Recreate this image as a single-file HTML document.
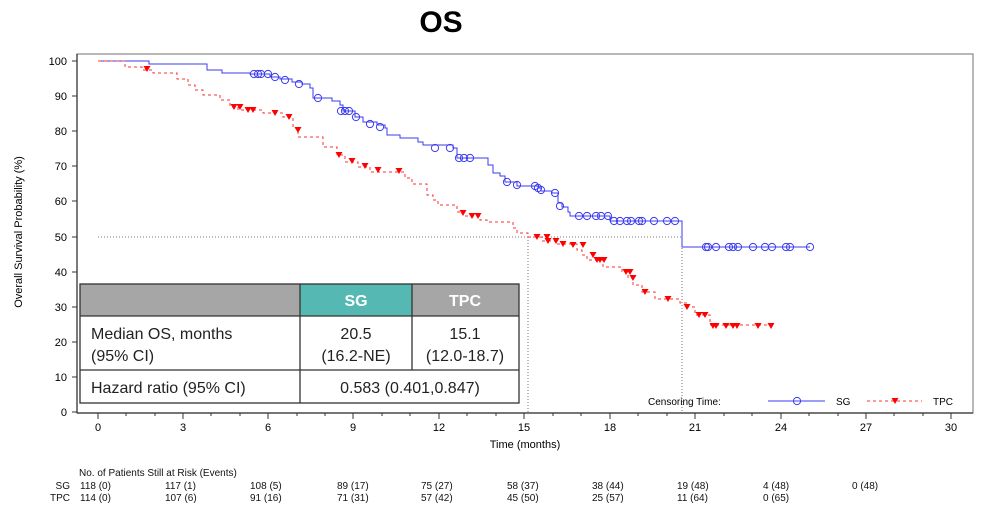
<!DOCTYPE html>
<html><head><meta charset="utf-8"><style>
body{margin:0;background:#fff;}
svg{display:block;font-family:"Liberation Sans",sans-serif;}
</style></head><body>
<svg width="987" height="510" viewBox="0 0 987 510" xmlns="http://www.w3.org/2000/svg">
<defs>
<circle id="c" r="3.6" fill="none" stroke="#3b3bf0" stroke-width="1"/>
<path id="t" d="M-3.5,-3 L3.5,-3 L0,3 Z" fill="#f00"/>
</defs>
<text x="441" y="32" font-size="30" font-weight="bold" text-anchor="middle">OS</text>
<!-- frame -->
<rect x="77" y="54" width="896" height="359" fill="none" stroke="#888" stroke-width="1.2"/>
<line x1="77" y1="413" x2="973" y2="413" stroke="#333" stroke-width="1.2"/>
<line x1="77" y1="54" x2="77" y2="413" stroke="#333" stroke-width="1.2"/>
<!-- y ticks -->
<g stroke="#333" stroke-width="1">
<line x1="72" y1="61" x2="77" y2="61"/><line x1="72" y1="96" x2="77" y2="96"/><line x1="72" y1="131" x2="77" y2="131"/><line x1="72" y1="166" x2="77" y2="166"/><line x1="72" y1="201" x2="77" y2="201"/><line x1="72" y1="237" x2="77" y2="237"/><line x1="72" y1="272" x2="77" y2="272"/><line x1="72" y1="307" x2="77" y2="307"/><line x1="72" y1="342" x2="77" y2="342"/><line x1="72" y1="377" x2="77" y2="377"/><line x1="72" y1="412" x2="77" y2="412"/>
</g>
<g font-size="11" text-anchor="end">
<text x="67" y="65">100</text><text x="67" y="100">90</text><text x="67" y="135">80</text><text x="67" y="170">70</text><text x="67" y="205">60</text><text x="67" y="241">50</text><text x="67" y="276">40</text><text x="67" y="311">30</text><text x="67" y="346">20</text><text x="67" y="381">10</text><text x="67" y="416">0</text>
</g>
<text transform="translate(22,232) rotate(-90)" font-size="11" text-anchor="middle">Overall Survival Probability (%)</text>
<!-- x ticks -->
<g stroke="#333" stroke-width="1">
<line x1="98" y1="413" x2="98" y2="419"/><line x1="183" y1="413" x2="183" y2="419"/><line x1="268" y1="413" x2="268" y2="419"/><line x1="353" y1="413" x2="353" y2="419"/><line x1="439" y1="413" x2="439" y2="419"/><line x1="524" y1="413" x2="524" y2="419"/><line x1="610" y1="413" x2="610" y2="419"/><line x1="695" y1="413" x2="695" y2="419"/><line x1="781" y1="413" x2="781" y2="419"/><line x1="866" y1="413" x2="866" y2="419"/><line x1="951" y1="413" x2="951" y2="419"/>
<line x1="126" y1="413" x2="126" y2="416"/><line x1="155" y1="413" x2="155" y2="416"/><line x1="211" y1="413" x2="211" y2="416"/><line x1="240" y1="413" x2="240" y2="416"/><line x1="297" y1="413" x2="297" y2="416"/><line x1="325" y1="413" x2="325" y2="416"/><line x1="382" y1="413" x2="382" y2="416"/><line x1="410" y1="413" x2="410" y2="416"/><line x1="467" y1="413" x2="467" y2="416"/><line x1="496" y1="413" x2="496" y2="416"/><line x1="553" y1="413" x2="553" y2="416"/><line x1="581" y1="413" x2="581" y2="416"/><line x1="638" y1="413" x2="638" y2="416"/><line x1="667" y1="413" x2="667" y2="416"/><line x1="724" y1="413" x2="724" y2="416"/><line x1="752" y1="413" x2="752" y2="416"/><line x1="809" y1="413" x2="809" y2="416"/><line x1="838" y1="413" x2="838" y2="416"/><line x1="894" y1="413" x2="894" y2="416"/><line x1="923" y1="413" x2="923" y2="416"/>
</g>
<g font-size="11" text-anchor="middle">
<text x="98" y="431">0</text><text x="183" y="431">3</text><text x="268" y="431">6</text><text x="353" y="431">9</text><text x="439" y="431">12</text><text x="524" y="431">15</text><text x="610" y="431">18</text><text x="695" y="431">21</text><text x="781" y="431">24</text><text x="866" y="431">27</text><text x="951" y="431">30</text>
</g>
<text x="525" y="448" font-size="11" text-anchor="middle">Time (months)</text>
<!-- reference lines -->
<g stroke="#777" stroke-width="1" stroke-dasharray="1,2" fill="none">
<line x1="98" y1="237" x2="682" y2="237"/>
<line x1="528" y1="237" x2="528" y2="413"/>
<line x1="682" y1="221" x2="682" y2="413"/>
</g>
<!-- SG -->
<polyline fill="none" stroke="#3b3bf0" stroke-width="1" points="98,61 149,61 149,64 207,64 207,70 222,70 222,73 250,73 250,74 270,74 270,77 280,77 280,79 292,79 292,82 302,82 302,84 310,84 310,88 313,88 313,98 332,98 332,101 340,101 340,105 343,105 343,111 355,111 355,117 363,117 363,122 377,122 377,125 385,125 385,128 387,128 387,135 400,135 400,138 418,138 418,142 423,142 423,145 453,145 453,148 457,148 457,158 488,158 488,165 493,165 493,173 500,173 500,176 505,176 505,182 517,182 517,186 533,186 533,186 538,186 538,188 541,188 541,191 552,191 552,193 558,193 558,203 562,203 562,207 568,207 568,212 570,212 570,216 610,216 610,221 682,221 682,247 810,247"/>
<!-- TPC -->
<polyline fill="none" stroke="#f33" stroke-width="1" stroke-dasharray="3,3" points="98,61 125,61 125,67 142,67 142,70 153,70 153,73 177,73 177,79 188,79 188,85 195,85 195,90 203,90 203,95 220,95 220,100 230,100 230,107 238,107 238,110 263,110 263,113 283,113 283,117 293,117 293,128 298,128 298,137 323,137 323,147 337,147 337,155 345,155 345,162 358,162 358,167 370,167 370,172 405,172 405,178 412,178 412,184 427,184 427,195 433,195 433,200 438,200 438,205 457,205 457,212 463,212 463,216 480,216 480,220 487,220 487,222 513,222 513,228 517,228 517,233 528,233 528,237 542,237 542,241 557,241 557,244 577,244 577,250 582,250 582,255 587,255 587,260 603,260 603,267 622,267 622,272 628,272 628,278 633,278 633,285 642,285 642,292 655,292 655,299 680,299 680,303 687,303 687,307 695,307 695,315 710,315 710,325 713,325 773,325"/>
<g>
<use href="#c" x="254" y="74"/><use href="#c" x="258" y="74"/><use href="#c" x="261" y="74"/><use href="#c" x="268" y="74"/><use href="#c" x="275" y="77"/><use href="#c" x="285" y="80"/><use href="#c" x="299" y="84"/><use href="#c" x="318" y="98"/><use href="#c" x="341" y="111"/><use href="#c" x="345" y="111"/><use href="#c" x="349" y="111"/><use href="#c" x="356" y="117"/><use href="#c" x="370" y="124"/><use href="#c" x="380" y="127"/><use href="#c" x="435" y="148"/><use href="#c" x="450" y="148"/><use href="#c" x="459" y="158"/><use href="#c" x="464" y="158"/><use href="#c" x="470" y="158"/><use href="#c" x="507" y="182"/><use href="#c" x="517" y="185"/><use href="#c" x="535" y="186"/><use href="#c" x="538" y="188"/><use href="#c" x="541" y="190"/><use href="#c" x="555" y="193"/><use href="#c" x="560" y="206"/><use href="#c" x="579" y="216"/><use href="#c" x="587" y="216"/><use href="#c" x="596" y="216"/><use href="#c" x="601" y="216"/><use href="#c" x="608" y="216"/><use href="#c" x="614" y="221"/><use href="#c" x="620" y="221"/><use href="#c" x="627" y="221"/><use href="#c" x="631" y="221"/><use href="#c" x="639" y="221"/><use href="#c" x="642" y="221"/><use href="#c" x="654" y="221"/><use href="#c" x="667" y="221"/><use href="#c" x="675" y="221"/><use href="#c" x="706" y="247"/><use href="#c" x="708" y="247"/><use href="#c" x="716" y="247"/><use href="#c" x="729" y="247"/><use href="#c" x="733" y="247"/><use href="#c" x="738" y="247"/><use href="#c" x="753" y="247"/><use href="#c" x="765" y="247"/><use href="#c" x="772" y="247"/><use href="#c" x="786" y="247"/><use href="#c" x="790" y="247"/><use href="#c" x="810" y="247"/>
</g>
<g>
<use href="#t" x="147" y="69"/><use href="#t" x="234" y="107"/><use href="#t" x="240" y="107"/><use href="#t" x="248" y="110"/><use href="#t" x="253" y="110"/><use href="#t" x="275" y="113"/><use href="#t" x="289" y="117"/><use href="#t" x="298" y="130"/><use href="#t" x="339" y="155"/><use href="#t" x="352" y="161"/><use href="#t" x="365" y="166"/><use href="#t" x="378" y="170"/><use href="#t" x="399" y="171"/><use href="#t" x="463" y="213"/><use href="#t" x="472" y="216"/><use href="#t" x="478" y="216"/><use href="#t" x="537" y="237"/><use href="#t" x="547" y="237"/><use href="#t" x="548" y="241"/><use href="#t" x="556" y="241"/><use href="#t" x="563" y="244"/><use href="#t" x="573" y="245"/><use href="#t" x="583" y="245"/><use href="#t" x="593" y="255"/><use href="#t" x="597" y="260"/><use href="#t" x="600" y="260"/><use href="#t" x="604" y="260"/><use href="#t" x="626" y="272"/><use href="#t" x="630" y="272"/><use href="#t" x="633" y="278"/><use href="#t" x="645" y="292"/><use href="#t" x="668" y="299"/><use href="#t" x="687" y="307"/><use href="#t" x="699" y="315"/><use href="#t" x="705" y="315"/><use href="#t" x="713" y="326"/><use href="#t" x="716" y="326"/><use href="#t" x="726" y="326"/><use href="#t" x="733" y="326"/><use href="#t" x="737" y="326"/><use href="#t" x="758" y="326"/><use href="#t" x="771" y="326"/>
</g>
<!-- legend -->
<text x="648" y="405" font-size="10">Censoring Time:</text>
<line x1="768" y1="401" x2="825" y2="401" stroke="#3b3bf0" stroke-width="1"/><use href="#c" x="797" y="401"/>
<text x="836" y="405" font-size="10">SG</text>
<line x1="867" y1="401" x2="922" y2="401" stroke="#f33" stroke-dasharray="3,3"/><use href="#t" x="895" y="401"/>
<text x="933" y="405" font-size="10">TPC</text>
<!-- table -->
<rect x="80" y="284" width="439" height="119" fill="#fff"/>
<rect x="80" y="284" width="220" height="32" fill="#a6a6a6"/>
<rect x="300" y="284" width="112" height="32" fill="#55b8b3"/>
<rect x="412" y="284" width="107" height="32" fill="#a6a6a6"/>
<g stroke="#333" stroke-width="1.3" fill="none">
<rect x="80" y="284" width="439" height="119"/>
<line x1="80" y1="316" x2="519" y2="316"/><line x1="80" y1="370" x2="519" y2="370"/>
<line x1="300" y1="284" x2="300" y2="403"/><line x1="412" y1="284" x2="412" y2="370"/>
</g>
<g font-size="16" fill="#222">
<text x="356" y="306" fill="#fff" font-weight="bold" text-anchor="middle">SG</text>
<text x="465" y="306" fill="#fff" font-weight="bold" text-anchor="middle">TPC</text>
<text x="91" y="339">Median OS, months</text><text x="91" y="361">(95% CI)</text>
<text x="356" y="339" text-anchor="middle">20.5</text><text x="356" y="361" text-anchor="middle">(16.2-NE)</text>
<text x="465" y="339" text-anchor="middle">15.1</text><text x="465" y="361" text-anchor="middle">(12.0-18.7)</text>
<text x="91" y="393">Hazard ratio (95% CI)</text>
<text x="410" y="393" text-anchor="middle">0.583 (0.401,0.847)</text>
</g>
<!-- at risk -->
<g font-size="10" fill="#111">
<text x="79" y="476">No. of Patients Still at Risk (Events)</text>
<text x="70" y="489" text-anchor="end">SG</text><text x="70" y="501" text-anchor="end">TPC</text>
<text x="80" y="489">118 (0)</text><text x="165" y="489">117 (1)</text><text x="250" y="489">108 (5)</text><text x="337" y="489">89 (17)</text><text x="421" y="489">75 (27)</text><text x="507" y="489">58 (37)</text><text x="592" y="489">38 (44)</text><text x="677" y="489">19 (48)</text><text x="763" y="489">4 (48)</text><text x="852" y="489">0 (48)</text>
<text x="80" y="501">114 (0)</text><text x="165" y="501">107 (6)</text><text x="250" y="501">91 (16)</text><text x="337" y="501">71 (31)</text><text x="421" y="501">57 (42)</text><text x="507" y="501">45 (50)</text><text x="592" y="501">25 (57)</text><text x="677" y="501">11 (64)</text><text x="763" y="501">0 (65)</text>
</g>
</svg>
</body></html>
